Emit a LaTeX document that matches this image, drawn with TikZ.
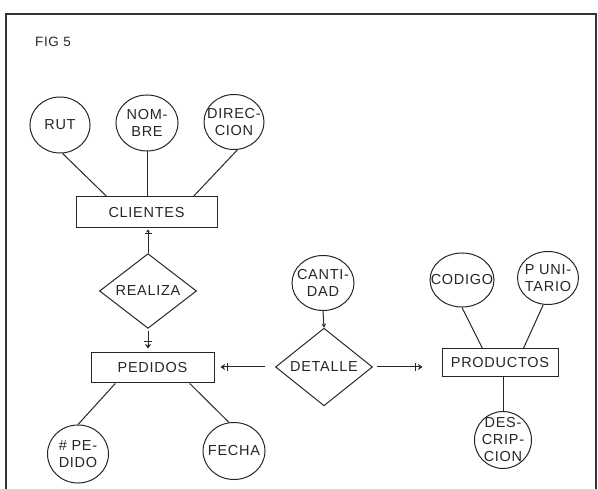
\documentclass[tikz,border=0pt]{standalone}
\usepackage{fontspec}
\setmainfont{Liberation Sans}[LetterSpace=5]
\usetikzlibrary{shapes.geometric,arrows.meta,calc}
\begin{document}
\begin{tikzpicture}[x=1pt,y=-1pt,
  ink/.style={draw=black!85, line width=1pt},
  txt/.style={text=black!85, font=\fontsize{14.5}{17}\selectfont},
  attr/.style n args={3}{ellipse, ink, inner sep=0pt, minimum width=#1, minimum height=#2,
      label={[txt,align=center,inner sep=0pt]center:#3}},
  ent/.style n args={2}{rectangle, ink, txt, inner sep=0pt, minimum width=#1, minimum height=#2},
  rel/.style={diamond, ink, txt, inner sep=0pt, minimum width=97, minimum height=49},
  conn/.style={draw=black!85, line width=1pt},
  twomark/.style={conn, -{Bar[width=8pt,sep=2pt] Stealth[length=4.5pt,width=6pt]}},
  onemark/.style={conn, -{Bar[width=7pt,sep=1pt] Stealth[length=3pt,width=4pt]}},
  arr/.style={conn, -{Stealth[length=4pt,width=4.5pt]}}
]
\useasboundingbox (0,0) rectangle (598,489);
% frame
\draw[draw=black!80, line width=1.3pt] (6,492) -- (6,14) -- (596,14) -- (596,492);
\node[txt, font=\fontsize{13.5}{16}\selectfont] (fig) at (53,42) {FIG 5};

% entities
\node[ent={141}{31}] (cli) at (146.5,212.5) {CLIENTES};
\node[ent={123}{30}] (ped) at (152.5,368) {PEDIDOS};
\node[ent={116}{28}] (prod) at (500,363) {PRODUCTOS};

% relationships
\node[rel] (rea) at (148,291) {REALIZA};
\node[rel] (det) at (324,367) {DETALLE};

% attributes
\node[attr={60}{56}{RUT}] (rut) at (60,125) {};
\node[attr={62}{56}{NOM-\\BRE}] (nom) at (147,123) {};
\node[attr={60}{55}{DIREC-\\CION}] (dir) at (234,122) {};
\node[attr={61}{58}{\# PE-\\DIDO}] (nped) at (78,454) {};
\node[attr={62}{57}{FECHA}] (fec) at (234,451) {};
\node[attr={62}{55}{CANTI-\\DAD}] (can) at (323,283) {};
\node[attr={64}{54}{CODIGO}] (cod) at (462,280) {};
\node[attr={61}{53}{P UNI-\\TARIO}] (pun) at (548,278) {};
\node[attr={57}{57}{DES-\\CRIP-\\CION}] (des) at (503,440) {};

% attribute links
\draw[conn] (rut.-85) -- ($(cli.north west)!0.22!(cli.north east)$);
\draw[conn] (nom.south) -- (nom.south |- cli.north);
\draw[conn] (dir.-83) -- ($(cli.north west)!0.83!(cli.north east)$);
\draw[conn] (nped.north) -- ($(ped.south west)!0.2!(ped.south east)$);
\draw[conn] (fec.100) -- ($(ped.south west)!0.8!(ped.south east)$);
\draw[conn] (cod.south) -- ($(prod.north west)!0.35!(prod.north east)$);
\draw[conn] (pun.-100) -- ($(prod.north west)!0.7!(prod.north east)$);
\draw[conn] (des.north) -- (des.north |- prod.south);

% relationship links
\draw[onemark, shorten >=1pt] (rea.north) -- (rea.north |- cli.south);
\draw[twomark, shorten <=2pt, shorten >=4pt] (rea.south) -- (rea.south |- ped.north);
\draw[twomark, shorten <=10pt, shorten >=6pt] (det.west) -- (det.west -| ped.east);
\draw[twomark, shorten <=4pt, shorten >=19pt] (det.east) -- (det.east -| prod.west);
\draw[arr] (can.south) -- (det.north);
\end{tikzpicture}
\end{document}
